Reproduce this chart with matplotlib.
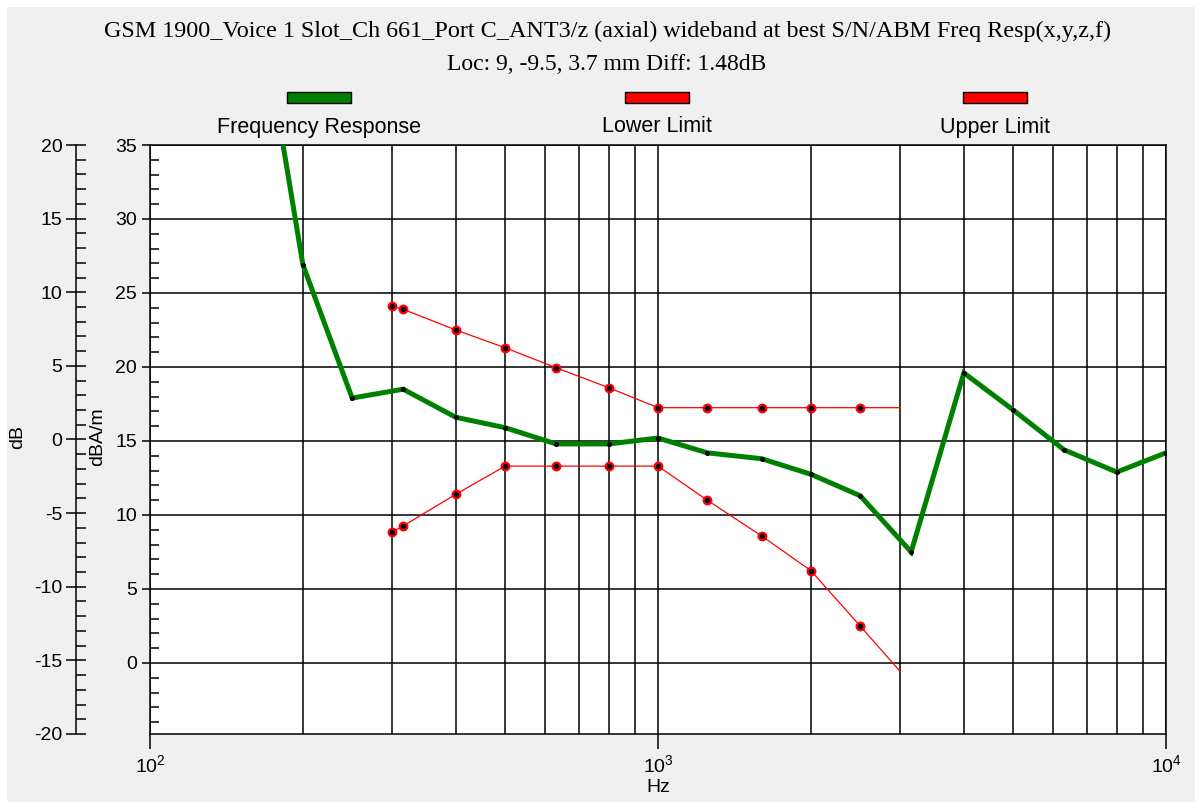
import matplotlib
matplotlib.use("Agg")
import matplotlib.pyplot as plt
from matplotlib.patches import Rectangle
from matplotlib.ticker import MultipleLocator, LogLocator, NullFormatter

# ---------------- data ----------------
title_line1 = "GSM 1900_Voice 1 Slot_Ch 661_Port C_ANT3/z (axial) wideband at best S/N/ABM Freq Resp(x,y,z,f)"
title_line2 = "Loc: 9, -9.5, 3.7 mm Diff: 1.48dB"
series_names = ["Frequency Response", "Lower Limit", "Upper Limit"]

resp_freq = [160, 200, 250, 315, 400, 500, 630, 800, 1000, 1250, 1600, 2000,
             2500, 3150, 4000, 5000, 6300, 8000, 10000]
resp_val = [47.0, 26.9, 17.9, 18.5, 16.6, 15.9, 14.8, 14.8, 15.2, 14.2, 13.8, 12.75,
            11.3, 7.5, 19.6, 17.1, 14.4, 12.9, 14.2]

upper_freq = [300, 315, 400, 500, 630, 800, 1000, 1250, 1600, 2000, 2500, 3000]
upper_val = [24.1, 23.9, 22.5, 21.3, 19.95, 18.6, 17.25, 17.25, 17.25, 17.25, 17.25, 17.25]

lower_freq = [300, 315, 400, 500, 630, 800, 1000, 1250, 1600, 2000, 2500, 3000]
lower_val = [8.83, 9.26, 11.4, 13.3, 13.3, 13.3, 13.3, 11.0, 8.58, 6.24, 2.5, -0.59]

inner_ylim = (-4.8, 35)
outer_ylim = (-20, 20)
x_lim = (100, 10000)

# ---------------- style ----------------
W, H = 1195, 802
plt.rcParams['font.family'] = ['Liberation Sans', 'DejaVu Sans']
plt.rcParams['mathtext.fontset'] = 'custom'
plt.rcParams['mathtext.rm'] = 'Liberation Sans'
plt.rcParams['mathtext.it'] = 'Liberation Sans'
plt.rcParams['axes.unicode_minus'] = False

TICK_FS = 14

fig = plt.figure(figsize=(W / 100, H / 100), dpi=100, facecolor='white')
# grey window background (white strip on top/left)
fig.patches.append(Rectangle((7 / W, 0), 1 - 7 / W, 1 - 7 / H, transform=fig.transFigure,
                             facecolor='#F0F0F0', edgecolor='none', zorder=-10))

def px(x, y):
    return x / W, 1 - y / H

L, R = 150 / W, 1166 / W
T, B = 1 - 145 / H, 1 - 734 / H

ax = fig.add_axes([L, B, R - L, T - B])
ax.set_facecolor('white')
ax.set_xscale('log')
ax.set_xlim(*x_lim)
ax.set_ylim(*inner_ylim)

grid_lw = 1.1
for s in ax.spines.values():
    s.set_linewidth(grid_lw)
    s.set_color('black')

ax.yaxis.set_major_locator(MultipleLocator(5))
ax.yaxis.set_minor_locator(MultipleLocator(1))
ax.xaxis.set_major_locator(LogLocator(base=10))
ax.xaxis.set_minor_locator(LogLocator(base=10, subs=range(2, 10)))
ax.xaxis.set_minor_formatter(NullFormatter())

ax.tick_params(axis='y', which='major', direction='out', length=5.8, width=grid_lw,
               labelsize=TICK_FS, pad=3.5)
ax.tick_params(axis='y', which='minor', direction='in', length=6.5, width=grid_lw)
ax.tick_params(axis='x', which='major', direction='out', length=10.8, width=grid_lw,
               labelsize=TICK_FS, pad=4)
ax.tick_params(axis='x', which='minor', length=0)

ax.grid(True, which='major', axis='y', color='black', linewidth=grid_lw)
ax.grid(True, which='both', axis='x', color='black', linewidth=grid_lw)
ax.set_axisbelow(True)

# series
ax.plot(resp_freq, resp_val, color='#008000', linewidth=3.6, solid_joinstyle='miter',
        zorder=3, clip_on=True)
ax.plot(resp_freq, resp_val, linestyle='none', marker='o', markersize=2.6,
        color='black', zorder=4)

for fx, fv in ((upper_freq, upper_val), (lower_freq, lower_val)):
    ax.plot(fx, fv, color='#FF0000', linewidth=0.9, zorder=3)
    ax.plot(fx[:-1], fv[:-1], linestyle='none', marker='o', markersize=5.5,
            markerfacecolor='black', markeredgecolor='#FF0000', markeredgewidth=1.6,
            zorder=4)

ax.set_xlabel('Hz', fontsize=TICK_FS, labelpad=2)
fig.text(*px(98, 437), 'dBA/m', rotation=90, ha='center', va='center', fontsize=TICK_FS)

# outer dB axis
ax2 = fig.add_axes([76 / W, B, 0.0005, T - B])
ax2.patch.set_visible(False)
for k in ('top', 'right', 'bottom'):
    ax2.spines[k].set_visible(False)
ax2.spines['left'].set_linewidth(grid_lw)
ax2.set_ylim(*outer_ylim)
ax2.set_xticks([])
ax2.yaxis.set_major_locator(MultipleLocator(5))
ax2.yaxis.set_minor_locator(MultipleLocator(1))
ax2.tick_params(axis='y', which='major', direction='inout', length=13.7, width=grid_lw,
                labelsize=TICK_FS, pad=3)
ax2.tick_params(axis='y', which='minor', direction='in', length=7.2, width=grid_lw)
fig.text(*px(18, 437), 'dB', rotation=90, ha='center', va='center', fontsize=TICK_FS)

# titles
fig.text(*px(607, 31), title_line1, ha='center', va='center', fontsize=17.4,
         family=['Liberation Serif', 'DejaVu Serif'])
fig.text(*px(607, 64), title_line2, ha='center', va='center', fontsize=17.0,
         family=['Liberation Serif', 'DejaVu Serif'])

# legend (swatch above label)
legend_colors = ['#008000', '#FF0000', '#FF0000']
legend_centers = [319, 657, 995]
for name, col, cx in zip(series_names, legend_colors, legend_centers):
    x0, y0 = px(cx - 32, 103)
    fig.patches.append(Rectangle((x0, y0), 64 / W, 11 / H, transform=fig.transFigure,
                                 facecolor=col, edgecolor='black', linewidth=1.0))
    fig.text(*px(cx, 127), name, ha='center', va='center', fontsize=15.5)

fig.savefig('out.png', dpi=100, facecolor=fig.get_facecolor())
